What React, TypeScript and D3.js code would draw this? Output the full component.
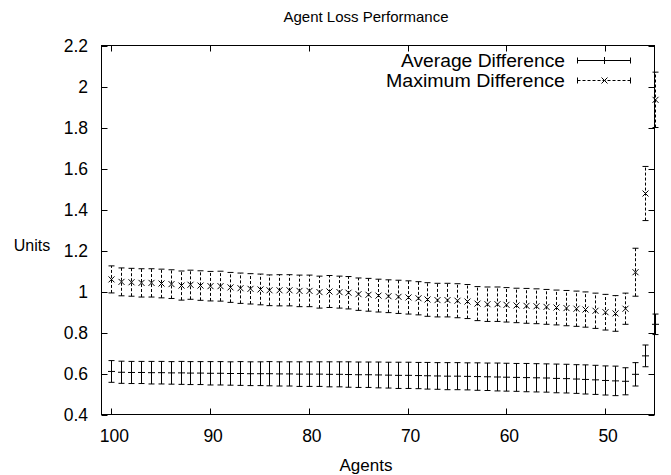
import React, { useEffect, useRef } from 'react';
import * as d3 from 'd3';

// agents, read right to left on the chart (axis is reversed)
const agents = [
  100, 99, 98, 97, 96, 95, 94, 93, 92, 91, 90, 89, 88, 87, 86, 85, 84, 83, 82, 81, 80, 79, 78, 77,
  76, 75, 74, 73, 72, 71, 70, 69, 68, 67, 66, 65, 64, 63, 62, 61, 60, 59, 58, 57, 56, 55, 54, 53,
  52, 51, 50, 49, 48, 47, 46, 45,
];

const avgValues = [
  0.61, 0.606, 0.605, 0.605, 0.604, 0.604, 0.603, 0.603, 0.602, 0.602, 0.601, 0.601, 0.6, 0.6,
  0.599, 0.599, 0.599, 0.598, 0.598, 0.597, 0.597, 0.597, 0.596, 0.596, 0.595, 0.594, 0.594, 0.593,
  0.592, 0.591, 0.591, 0.59, 0.589, 0.588, 0.587, 0.587, 0.586, 0.585, 0.584, 0.583, 0.582, 0.581,
  0.58, 0.579, 0.578, 0.576, 0.575, 0.573, 0.571, 0.569, 0.566, 0.564, 0.562, 0.596, 0.686, 0.84,
];

const avgErrors = [
  0.053, 0.054, 0.054, 0.054, 0.055, 0.055, 0.055, 0.056, 0.056, 0.056, 0.057, 0.057, 0.057, 0.058,
  0.058, 0.058, 0.059, 0.059, 0.059, 0.06, 0.06, 0.06, 0.061, 0.061, 0.062, 0.062, 0.062, 0.063,
  0.063, 0.064, 0.064, 0.064, 0.065, 0.065, 0.066, 0.066, 0.066, 0.067, 0.067, 0.068, 0.068, 0.068,
  0.069, 0.069, 0.069, 0.07, 0.07, 0.07, 0.071, 0.071, 0.071, 0.072, 0.066, 0.057, 0.053, 0.05,
];

const maxValues = [
  1.059, 1.047, 1.045, 1.042, 1.042, 1.039, 1.036, 1.029, 1.033, 1.029, 1.026, 1.026, 1.02, 1.016,
  1.013, 1.01, 1.006, 1.006, 1.006, 1.003, 1.003, 0.997, 1.0, 0.997, 0.994, 0.987, 0.984, 0.98,
  0.977, 0.974, 0.971, 0.967, 0.961, 0.958, 0.958, 0.955, 0.951, 0.941, 0.938, 0.938, 0.935, 0.932,
  0.93, 0.928, 0.925, 0.922, 0.919, 0.916, 0.912, 0.906, 0.899, 0.893, 0.916, 1.094, 1.478, 1.935,
];

const maxErrors = [
  0.066, 0.068, 0.068, 0.069, 0.069, 0.07, 0.07, 0.071, 0.071, 0.072, 0.072, 0.073, 0.073, 0.074,
  0.074, 0.075, 0.075, 0.076, 0.076, 0.077, 0.077, 0.078, 0.078, 0.078, 0.079, 0.079, 0.08, 0.08,
  0.08, 0.081, 0.081, 0.081, 0.082, 0.082, 0.082, 0.083, 0.083, 0.083, 0.084, 0.084, 0.084, 0.084,
  0.085, 0.085, 0.085, 0.085, 0.086, 0.086, 0.086, 0.086, 0.087, 0.087, 0.076, 0.117, 0.132, 0.135,
];

const xTicks = [100, 90, 80, 70, 60, 50];
const yTicks = [0.4, 0.6, 0.8, 1, 1.2, 1.4, 1.6, 1.8, 2, 2.2];

const seriesNames = ['Average Difference', 'Maximum Difference'];

const App: React.FC = () => {
  const svgRef = useRef<SVGSVGElement>(null);

  useEffect(() => {
    if (!svgRef.current) return;

    const width = 671;
    const height = 475;
    const frame = { left: 101.5, right: 654.5, top: 45.5, bottom: 414.5 };
    const font = '"Liberation Sans", Arial, Helvetica, sans-serif';

    const svg = d3.select(svgRef.current).attr('width', width).attr('height', height);
    svg.selectAll('*').remove();

    const x = d3.scaleLinear().domain([101, 45]).range([frame.left, frame.right]);
    const y = d3.scaleLinear().domain([0.4, 2.2]).range([frame.bottom, frame.top]);

    const tickLen = 6;

    // ticks, mirrored on all four sides, pointing inward
    const ticksG = svg.append('g').attr('stroke', '#000').attr('stroke-width', 1);
    yTicks.forEach((t) => {
      const py = Math.round(y(t)) + 0.5;
      ticksG.append('line').attr('x1', frame.left).attr('x2', frame.left + tickLen).attr('y1', py).attr('y2', py);
      ticksG.append('line').attr('x1', frame.right).attr('x2', frame.right - tickLen).attr('y1', py).attr('y2', py);
    });
    xTicks.forEach((t) => {
      const px = Math.round(x(t)) + 0.5;
      ticksG.append('line').attr('x1', px).attr('x2', px).attr('y1', frame.bottom).attr('y2', frame.bottom - tickLen);
      ticksG.append('line').attr('x1', px).attr('x2', px).attr('y1', frame.top).attr('y2', frame.top + tickLen);
    });

    svg
      .append('rect')
      .attr('x', frame.left)
      .attr('y', frame.top)
      .attr('width', frame.right - frame.left)
      .attr('height', frame.bottom - frame.top)
      .attr('fill', 'none')
      .attr('stroke', '#000')
      .attr('stroke-width', 1);

    // tick labels
    svg
      .append('g')
      .selectAll('text')
      .data(yTicks)
      .enter()
      .append('text')
      .attr('x', 88)
      .attr('y', (d) => y(d) + 6)
      .attr('text-anchor', 'end')
      .attr('font-family', font)
      .attr('font-size', 17.5)
      .text((d) => String(d));

    svg
      .append('g')
      .selectAll('text')
      .data(xTicks)
      .enter()
      .append('text')
      .attr('x', (d) => x(d) + 3)
      .attr('y', 442)
      .attr('text-anchor', 'middle')
      .attr('font-family', font)
      .attr('font-size', 17.5)
      .text((d) => String(d));

    // title and axis labels
    svg
      .append('text')
      .attr('x', 366)
      .attr('y', 22)
      .attr('text-anchor', 'middle')
      .attr('font-family', font)
      .attr('font-size', 15)
      .text('Agent Loss Performance');
    svg
      .append('text')
      .attr('x', 366)
      .attr('y', 471)
      .attr('text-anchor', 'middle')
      .attr('font-family', font)
      .attr('font-size', 17)
      .text('Agents');
    svg
      .append('text')
      .attr('x', 32)
      .attr('y', 251)
      .attr('text-anchor', 'middle')
      .attr('font-family', font)
      .attr('font-size', 16)
      .text('Units');

    const cap = 3;

    const drawErrorBar = (
      g: d3.Selection<SVGGElement, unknown, null, undefined>,
      px: number,
      lo: number,
      hi: number,
      dashed: boolean,
    ) => {
      const dash = dashed ? '3,2' : null;
      g.append('line')
        .attr('x1', px)
        .attr('x2', px)
        .attr('y1', lo)
        .attr('y2', hi)
        .attr('stroke-dasharray', dash);
      g.append('line').attr('x1', px - cap).attr('x2', px + cap).attr('y1', lo).attr('y2', lo);
      g.append('line').attr('x1', px - cap).attr('x2', px + cap).attr('y1', hi).attr('y2', hi);
    };

    const drawPlus = (g: d3.Selection<SVGGElement, unknown, null, undefined>, px: number, py: number) => {
      const s = 3.5;
      g.append('line').attr('x1', px - s).attr('x2', px + s).attr('y1', py).attr('y2', py);
      g.append('line').attr('x1', px).attr('x2', px).attr('y1', py - s).attr('y2', py + s);
    };

    const drawCross = (g: d3.Selection<SVGGElement, unknown, null, undefined>, px: number, py: number) => {
      const s = 3;
      g.append('line').attr('x1', px - s).attr('x2', px + s).attr('y1', py - s).attr('y2', py + s);
      g.append('line').attr('x1', px - s).attr('x2', px + s).attr('y1', py + s).attr('y2', py - s);
    };

    // Maximum Difference (dashed bars, x markers)
    const maxG = svg.append('g').attr('stroke', '#000').attr('stroke-width', 1).attr('fill', 'none');
    agents.forEach((a, i) => {
      const px = Math.round(x(a)) + 0.5;
      drawErrorBar(maxG, px, y(maxValues[i] - maxErrors[i]), y(maxValues[i] + maxErrors[i]), true);
      drawCross(maxG, px, y(maxValues[i]));
    });

    // Average Difference (solid bars, + markers)
    const avgG = svg.append('g').attr('stroke', '#000').attr('stroke-width', 1).attr('fill', 'none');
    agents.forEach((a, i) => {
      const px = Math.round(x(a)) + 0.5;
      drawErrorBar(avgG, px, y(avgValues[i] - avgErrors[i]), y(avgValues[i] + avgErrors[i]), false);
      drawPlus(avgG, px, y(avgValues[i]));
    });

    // legend: text is a bit wide in the original, so stretch it to that width
    const legendWidths = [164, 179];
    const legendG = svg.append('g');
    seriesNames.forEach((name, i) => {
      const ly = 60.5 + i * 20;
      legendG
        .append('text')
        .attr('x', 565)
        .attr('y', ly + 6.5)
        .attr('text-anchor', 'end')
        .attr('font-family', font)
        .attr('font-size', 17.5)
        .attr('textLength', legendWidths[i])
        .attr('lengthAdjust', 'spacingAndGlyphs')
        .text(name);
      const lg = legendG.append('g').attr('stroke', '#000').attr('stroke-width', 1).attr('fill', 'none');
      lg.append('line')
        .attr('x1', 577.5)
        .attr('x2', 630.5)
        .attr('y1', ly)
        .attr('y2', ly)
        .attr('stroke-dasharray', i === 1 ? '3,2' : null);
      lg.append('line').attr('x1', 577.5).attr('x2', 577.5).attr('y1', ly - cap).attr('y2', ly + cap);
      lg.append('line').attr('x1', 630.5).attr('x2', 630.5).attr('y1', ly - cap).attr('y2', ly + cap);
      if (i === 0) drawPlus(lg, 604.5, ly);
      else drawCross(lg, 604.5, ly);
    });
  }, []);

  return <svg ref={svgRef} style={{ position: 'absolute', left: 0, top: 0, background: '#fff' }}></svg>;
};

export default App;
